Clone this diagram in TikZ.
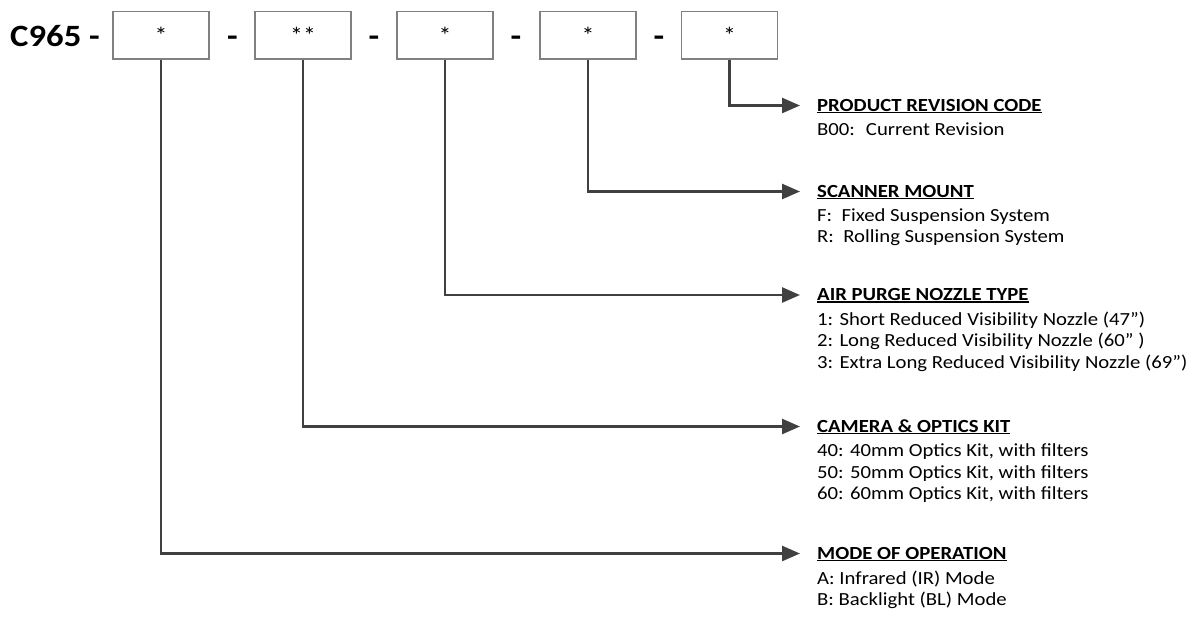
\documentclass[tikz,border=0pt]{standalone}
\usepackage{fontspec}
\setmainfont{Carlito}[FakeStretch=1.12]
\usetikzlibrary{arrows.meta}
\definecolor{linegray}{HTML}{404040}
\definecolor{boxgray}{HTML}{808080}
\newcommand{\ulh}[1]{\setbox0\hbox{#1}\rlap{\rule[-2.4pt]{\wd0}{1.5pt}}\box0}
\tikzset{
  codebox/.style={draw=boxgray, line width=1.1pt, minimum width=96pt, minimum height=47.3pt, inner sep=0pt},
  star/.style={font=\fontsize{23}{24}\selectfont, inner sep=0pt, anchor=base},
  sep/.style={font=\bfseries\fontsize{31}{33}\selectfont, inner sep=0pt, anchor=base},
  conn/.style={draw=linegray, line width=2.6pt, -{Triangle[length=18pt,width=15pt]}},
  head/.style={font=\bfseries\fontsize{18.5}{20}\selectfont, inner sep=0pt, anchor=base west},
  body/.style={font=\fontsize{18.5}{20}\selectfont, inner sep=0pt, anchor=base west},
}
\begin{document}
\begin{tikzpicture}[x=1pt,y=-1pt]
\useasboundingbox (0,0) rectangle (1201,616);
\node[sep, anchor=base west] (code) at (10,46) {C965 -};
\node[codebox] (b1) at (161,35.3) {};
\node[codebox] (b2) at (303,35.3) {};
\node[codebox] (b3) at (445,35.3) {};
\node[codebox] (b4) at (588,35.3) {};
\node[codebox] (b5) at (729.5,35.3) {};
\node[star] (s1) at (161,43) {*};
\node[star] (s2) at (303,43) {**};
\node[star] (s3) at (445,43) {*};
\node[star] (s4) at (588,43) {*};
\node[star] (s5) at (729.5,43) {*};
\node[sep] (d1) at (232.5,46) {-};
\node[sep] (d2) at (374,46) {-};
\node[sep] (d3) at (516,46) {-};
\node[sep] (d4) at (659,46) {-};
% revision
\node[head] (revh) at (817,111) {\ulh{PRODUCT REVISION CODE}};
\node[body] (rev1) at (817,135.5) {B00:~ Current Revision};
% scanner
\node[head] (scanh) at (817,197) {\ulh{SCANNER MOUNT}};
\node[body] (scan1) at (817,221) {F:~ Fixed Suspension System};
\node[body] (scan2) at (817,242.5) {R:~ Rolling Suspension System};
% air purge
\node[head] (airh) at (817,300.5) {\ulh{AIR PURGE NOZZLE TYPE}};
\node[body] (air1) at (817,325) {1: Short Reduced Visibility Nozzle (47")};
\node[body] (air2) at (817,346.5) {2: Long Reduced Visibility Nozzle (60" )};
\node[body] (air3) at (817,368) {3: Extra Long Reduced Visibility Nozzle (69")};
% camera
\node[head] (camh) at (817,432) {\ulh{CAMERA \& OPTICS KIT}};
\node[body] (cam1) at (817,456.5) {40: 40mm Optics Kit, with filters};
\node[body] (cam2) at (817,478) {50: 50mm Optics Kit, with filters};
\node[body] (cam3) at (817,499.5) {60: 60mm Optics Kit, with filters};
% mode
\node[head] (modeh) at (817,559) {\ulh{MODE OF OPERATION}};
\node[body] (mode1) at (817,584) {A: Infrared (IR) Mode};
\node[body] (mode2) at (817,605.5) {B: Backlight (BL) Mode};
% connectors
\coordinate (trev) at (800,105.5);
\coordinate (tscan) at (800,191.5);
\coordinate (tair) at (800,295);
\coordinate (tcam) at (800,426.5);
\coordinate (tmode) at (800,553.5);
\draw[conn] (b5.south) |- (trev);
\draw[conn] (b4.south) |- (tscan);
\draw[conn] (b3.south) |- (tair);
\draw[conn] (b2.south) |- (tcam);
\draw[conn] (b1.south) |- (tmode);
\end{tikzpicture}
\end{document}
